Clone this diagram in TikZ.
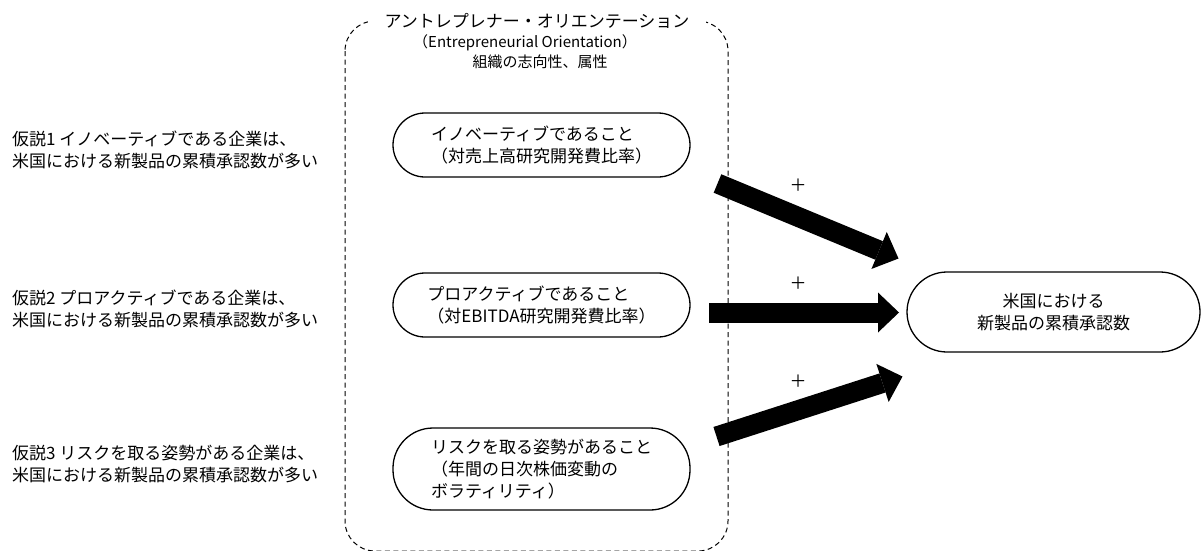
\documentclass[tikz,border=0pt]{standalone}
\usepackage{fontspec}
\setmainfont{Noto Sans CJK JP}
\usetikzlibrary{arrows.meta}
\tikzset{
  txt/.style={font=\fontsize{17}{22}\selectfont, inner sep=0pt},
  small/.style={font=\fontsize{15}{18}\selectfont, inner sep=0pt},
  pill/.style={draw, line width=1.3pt, txt, align=left, minimum width=297pt, minimum height=64pt, rounded corners=32pt},
  hyp/.style={txt, align=left, anchor=west},
  bigarrow/.style={line width=20pt, -{Triangle[width=40pt,length=21pt,line width=0pt]}},
  frame/.style={draw, line width=1pt, dash pattern=on 5pt off 3.5pt, rounded corners=30pt},
}
\begin{document}
\begin{tikzpicture}[x=1pt,y=-1pt]
\useasboundingbox (0,0) rectangle (1201,550);
% dashed frame
\draw[frame] (345,21) rectangle (728,551);
\node[txt, fill=white, minimum width=338pt, inner ysep=3pt] (title) at (537,21) {アントレプレナー・オリエンテーション};
\node[small] (title2) at (525,43) {（Entrepreneurial Orientation）};
\node[small] (title3) at (540,62) {組織の志向性、属性};
% hypotheses
\node[hyp] (h1) at (12,149.5) {仮説1 イノベーティブである企業は、\\米国における新製品の累積承認数が多い};
\node[hyp] (h2) at (12,309) {仮説2 プロアクティブである企業は、\\米国における新製品の累積承認数が多い};
\node[hyp] (h3) at (12,464) {仮説3 リスクを取る姿勢がある企業は、\\米国における新製品の累積承認数が多い};
% factor nodes
\node[pill] (n1) at (541.5,145) {イノベーティブであること\\（対売上高研究開発費比率）};
\node[pill] (n2) at (541.5,305) {プロアクティブであること\\（対EBITDA研究開発費比率）};
\node[pill, minimum height=82pt, rounded corners=40pt] (n3) at (541.5,469) {リスクを取る姿勢があること\\（年間の日次株価変動の\\ボラティリティ）};
\node[pill, align=center, minimum width=293pt, minimum height=80pt, rounded corners=40pt] (t) at (1053.5,312) {米国における\\新製品の累積承認数};
% arrows
\coordinate (a1s) at (717.5,183.5);
\coordinate (a1e) at (898.5,258.5);
\coordinate (a2s) at (709,312.5);
\coordinate (a2e) at (899,312.5);
\coordinate (a3s) at (716.5,436.5);
\coordinate (a3e) at (902.5,376.5);
\draw[bigarrow] (a1s) -- (a1e);
\draw[bigarrow] (a2s) -- (a2e);
\draw[bigarrow] (a3s) -- (a3e);
\node[txt] (p1) at (798,185) {＋};
\node[txt] (p2) at (798,283) {＋};
\node[txt] (p3) at (798,381) {＋};
\end{tikzpicture}
\end{document}
